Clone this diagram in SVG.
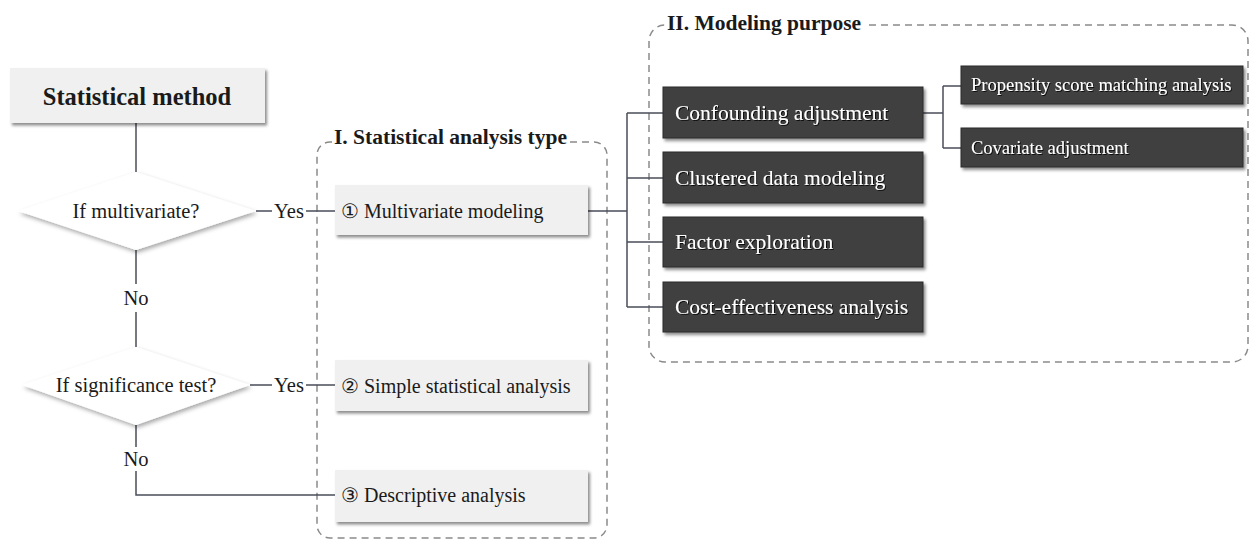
<svg xmlns="http://www.w3.org/2000/svg" width="1250" height="542" viewBox="0 0 1250 542">
<defs>
<filter id="sh" x="-10%" y="-20%" width="125%" height="150%">
<feDropShadow dx="2" dy="2.5" stdDeviation="1.5" flood-color="#000" flood-opacity="0.45"/>
</filter>
<filter id="dsh" x="-10%" y="-20%" width="125%" height="150%">
<feDropShadow dx="1.5" dy="2.5" stdDeviation="2" flood-color="#000" flood-opacity="0.35"/>
</filter>
<filter id="tsh" x="-5%" y="-20%" width="110%" height="150%">
<feDropShadow dx="1" dy="1" stdDeviation="0.6" flood-color="#000" flood-opacity="0.8"/>
</filter>
</defs>
<style>
text{font-family:"Liberation Serif","Times New Roman",serif;fill:#1a1a1a}
.light{fill:#f0f0f0;filter:url(#sh)}
.dark{fill:#404040;stroke:#2a2a2a;stroke-width:1;filter:url(#sh)}
.dia{fill:#fff;filter:url(#dsh)}
.lt{font-size:20px}
.dt{font-size:21.5px;fill:#fff;filter:url(#tsh)}
.st{font-size:18.5px;fill:#fff;filter:url(#tsh)}
.title{font-size:21.5px;font-weight:bold}
.lab{font-size:20.5px}
.dash{fill:none;stroke:#8a8a8a;stroke-width:1.5;stroke-dasharray:7 5}
.conn{fill:none;stroke:#4a4e5a;stroke-width:1.5}
</style>
<rect width="1250" height="542" fill="#fff"/>

<g id="group-I">
<rect class="dash" x="317" y="142" width="290" height="396" rx="13"/>
<rect x="332" y="124" width="237" height="26" fill="#fff"/>
<text class="title" x="334" y="144">I. Statistical analysis type</text>
</g>
<g id="group-II">
<rect class="dash" x="649" y="25" width="599" height="337" rx="16"/>
<rect x="665" y="7" width="199" height="28" fill="#fff"/>
<text class="title" x="667" y="30">II. Modeling purpose</text>
</g>

<g id="connectors">
<path class="conn" d="M136,123 V172"/>
<path class="conn" d="M256,211 H272 M306,211 H335"/>
<path class="conn" d="M136,250 V284 M136,312 V347"/>
<path class="conn" d="M250,385 H272 M306,385 H335"/>
<path class="conn" d="M136,425 V447 M136,471 V495 H335"/>
<path class="conn" d="M588,211 H627 M627,113 V307 M627,113 H663 M627,178 H663 M627,242 H663 M627,307 H663"/>
<path class="conn" d="M923,113 H943 M943,86 V148 M943,86 H961 M943,148 H961"/>
<text class="lab" x="289" y="218" text-anchor="middle">Yes</text>
<text class="lab" x="136" y="305" text-anchor="middle">No</text>
<text class="lab" x="289" y="392" text-anchor="middle">Yes</text>
<text class="lab" x="136" y="466" text-anchor="middle">No</text>
</g>

<g id="start">
<rect class="light" x="10" y="68" width="255" height="55"/>
<text x="137" y="105" text-anchor="middle" font-size="24.5" font-weight="bold">Statistical method</text>
</g>
<g id="dec-multivariate">
<polygon class="dia" points="136,172 256,211 136,250 18,211"/>
<text class="lab" x="136" y="218" text-anchor="middle">If multivariate?</text>
</g>
<g id="dec-significance">
<polygon class="dia" points="136,347 250,385 136,425 22,385"/>
<text class="lab" x="136" y="392" text-anchor="middle">If significance test?</text>
</g>

<g id="multivariate-modeling">
<rect class="light" x="335" y="185" width="253" height="50"/>
<text class="lt" x="341" y="218">① Multivariate modeling</text>
</g>
<g id="simple-analysis">
<rect class="light" x="335" y="360" width="253" height="51"/>
<text class="lt" x="341" y="393">② Simple statistical analysis</text>
</g>
<g id="descriptive-analysis">
<rect class="light" x="335" y="470" width="253" height="52"/>
<text class="lt" x="341" y="502">③ Descriptive analysis</text>
</g>

<g id="confounding">
<rect class="dark" x="663" y="87" width="260" height="51"/>
<text class="dt" x="675" y="120">Confounding adjustment</text>
</g>
<g id="clustered">
<rect class="dark" x="663" y="152" width="260" height="51"/>
<text class="dt" x="675" y="185">Clustered data modeling</text>
</g>
<g id="factor">
<rect class="dark" x="663" y="217" width="260" height="50"/>
<text class="dt" x="675" y="249">Factor exploration</text>
</g>
<g id="cost">
<rect class="dark" x="663" y="282" width="260" height="50"/>
<text class="dt" x="675" y="314">Cost-effectiveness analysis</text>
</g>
<g id="propensity">
<rect class="dark" x="961" y="66" width="282" height="38"/>
<text class="st" x="971" y="91">Propensity score matching analysis</text>
</g>
<g id="covariate">
<rect class="dark" x="961" y="128" width="282" height="39"/>
<text class="st" x="971" y="154">Covariate adjustment</text>
</g>
</svg>
